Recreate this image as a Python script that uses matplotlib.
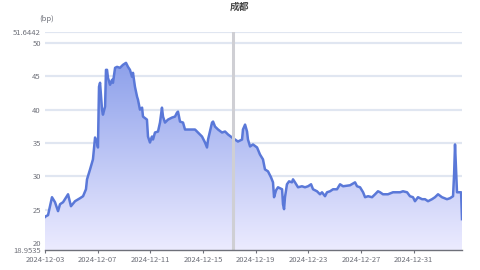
import datetime as dt
import numpy as np
import matplotlib
matplotlib.use("Agg")
import matplotlib.pyplot as plt
import matplotlib.dates as mdates
from matplotlib.colors import LinearSegmentedColormap

plt.rcParams['font.family'] = ['Noto Sans CJK SC', 'DejaVu Sans']

title = "成都"
y_name = "(bp)"
start = dt.datetime(2024, 12, 3)

# days after start, value
day_offset = [0.0, 0.08, 0.23, 0.53, 0.76, 0.99, 1.14, 1.37, 1.75, 1.97, 2.28, 2.66, 2.89, 3.11,
              3.19, 3.42, 3.64, 3.80, 3.95, 4.02, 4.10, 4.18, 4.33, 4.40, 4.56, 4.63, 4.71, 4.78,
              4.94, 5.09, 5.16, 5.32, 5.47, 5.69, 5.92, 6.15, 6.30, 6.45, 6.61, 6.68, 6.83, 6.99,
              7.06, 7.21, 7.37, 7.44, 7.74, 7.82, 7.97, 8.12, 8.20, 8.35, 8.58, 8.73, 8.88, 8.96,
              9.11, 9.34, 9.64, 9.87, 10.02, 10.10, 10.25, 10.48, 10.63, 10.86, 11.39, 11.62,
              11.92, 12.15, 12.30, 12.38, 12.68, 12.76, 12.91, 13.14, 13.44, 13.67, 13.90, 14.20,
              14.43, 14.65, 14.96, 15.03, 15.19, 15.34, 15.41, 15.57, 15.79, 16.10, 16.32, 16.55,
              16.70, 16.93, 17.16, 17.31, 17.39, 17.54, 17.69, 18.00, 18.07, 18.15, 18.22, 18.37,
              18.53, 18.75, 18.83, 18.98, 19.21, 19.51, 19.74, 19.97, 20.20, 20.35, 20.65, 20.88,
              21.03, 21.26, 21.41, 21.64, 21.87, 22.17, 22.40, 22.63, 23.16, 23.54, 23.69, 23.92,
              24.15, 24.30, 24.53, 24.83, 25.06, 25.28, 25.44, 25.66, 26.04, 26.42, 26.96, 27.18,
              27.49, 27.71, 27.94, 28.09, 28.32, 28.63, 28.85, 29.08, 29.38, 29.61, 29.84, 30.14,
              30.52, 30.75, 30.98, 31.06, 31.13, 31.21, 31.28, 31.51, 31.59, 31.66]
values = [23.9, 24.03, 24.18, 26.87, 26.12, 24.78, 25.82, 26.12, 27.31, 25.52, 26.27, 26.72, 27.02, 28.06,
          29.55, 31.04, 32.54, 35.82, 35.07, 34.33, 43.43, 44.03, 40.00, 39.25, 40.45, 45.97, 45.97, 44.78,
          43.73, 44.48, 44.03, 46.27, 46.42, 46.27, 46.72, 47.02, 46.42, 45.97, 44.93, 45.52, 43.43, 41.94,
          41.49, 40.00, 40.30, 38.96, 38.51, 35.97, 35.07, 35.97, 35.52, 36.57, 36.72, 38.06, 40.30, 38.96,
          38.06, 38.51, 38.81, 38.96, 39.55, 39.70, 38.21, 38.06, 37.02, 37.02, 37.02, 36.57,
          35.97, 35.07, 34.33, 35.52, 38.06, 38.21, 37.46, 37.02, 36.57, 36.72, 36.27, 35.82,
          35.52, 35.22, 35.52, 37.02, 37.76, 36.72, 35.52, 34.48, 34.78, 34.33, 33.28, 32.54,
          31.04, 30.75, 29.85, 29.10, 26.87, 27.90, 28.36, 28.06, 25.82, 25.08, 26.87, 28.81,
          29.25, 29.10, 29.55, 29.10, 28.36, 28.51, 28.36, 28.51, 28.81, 28.06, 27.76, 27.31,
          27.61, 27.02, 27.61, 27.76, 28.06, 28.06, 28.81, 28.51, 28.66, 29.10, 28.51, 28.36,
          27.61, 26.87, 27.02, 26.87, 27.31, 27.76, 27.61, 27.31, 27.31, 27.61, 27.61, 27.76,
          27.61, 27.02, 26.87, 26.27, 26.87, 26.57, 26.57, 26.27, 26.57, 26.87, 27.31, 26.87,
          26.57, 26.72, 27.02, 30.30, 34.78, 31.04, 27.61, 27.61, 27.61, 23.58]

y_min, y_max = 18.9535, 51.6442
y_ticks = [20, 25, 30, 35, 40, 45, 50]
x_tick_days = [0, 4, 8, 12, 16, 20, 24, 28]
mark_day = 14.27
x_end_day = 31.66

dates = [start + dt.timedelta(days=d) for d in day_offset]
x = mdates.date2num(dates)
x0 = mdates.date2num(start)
x1 = mdates.date2num(start + dt.timedelta(days=x_end_day))

fig = plt.figure(figsize=(4.8, 2.7), dpi=100)
fig.patch.set_alpha(0)
ax = fig.add_axes([45 / 480, 20 / 270, 417 / 480, 218 / 270])
ax.patch.set_alpha(0)

grid_c = '#e0e6f1'
label_c = '#6e7079'
for t in y_ticks + [y_max]:
    ax.axhline(t, color=grid_c, lw=1.6, zorder=1)

poly = ax.fill_between(x, values, y_min, color='none', lw=0, zorder=2)
cmap = LinearSegmentedColormap.from_list('area', ['#ecebff', '#8a9eea'])
grad = np.linspace(0, 1, 256).reshape(-1, 1)
im = ax.imshow(grad, extent=[x0, x1, y_min, 48], origin='lower', aspect='auto',
               cmap=cmap, zorder=2, interpolation='bilinear')
im.set_clip_path(poly.get_paths()[0], transform=ax.transData)

ax.plot(x, values, color='#5a78d8', lw=1.8, zorder=3)

mark_x = mdates.date2num(start + dt.timedelta(days=mark_day))
ax.axvline(mark_x, color='#cfcfd4', lw=2.2, zorder=4)

ax.set_xlim(x0, x1)
ax.set_ylim(y_min, y_max)

ax.set_yticks([y_min] + y_ticks + [y_max])
ax.set_yticklabels([f"{y_min:.4f}"] + [str(t) for t in y_ticks] + [f"{y_max:.4f}"])
tick_dates = [start + dt.timedelta(days=d) for d in x_tick_days]
ax.set_xticks(mdates.date2num(tick_dates))
ax.set_xticklabels([d.strftime('%Y-%m-%d') for d in tick_dates])

ax.tick_params(axis='y', length=0, labelsize=5.5, labelcolor=label_c, pad=3)
ax.tick_params(axis='x', length=2.5, width=0.8, color=label_c, labelsize=5.5,
               labelcolor=label_c, pad=2)
for s in ['top', 'right', 'left']:
    ax.spines[s].set_visible(False)
ax.spines['bottom'].set_color(label_c)
ax.spines['bottom'].set_linewidth(1)
ax.spines['bottom'].set_zorder(5)

fig.text(0.5, 1 - 7 / 270, title, ha='center', va='center', fontsize=7,
         fontweight='bold', color='#464646')
fig.text(47 / 480, 1 - 19 / 270, y_name, ha='center', va='center', fontsize=5.5,
         color=label_c)

fig.savefig('out.png', dpi=100, transparent=True)
